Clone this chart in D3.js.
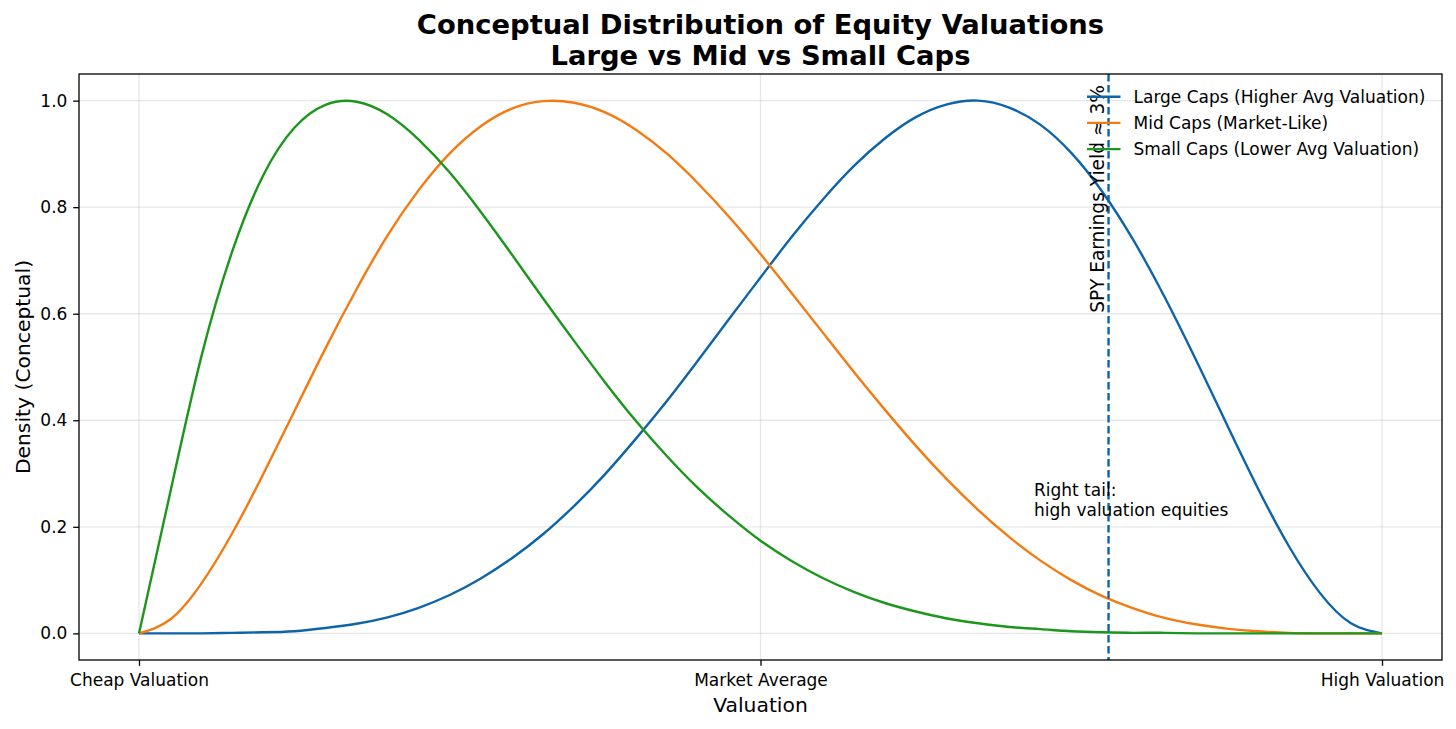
<!DOCTYPE html>
<html lang="en">
<head>
    <meta charset="UTF-8"/>
    <title>Equity Valuations</title>
    <script src="https://d3js.org/d3.v7.min.js"></script>
    <style>
        body { margin: 0; background: #fff; }
        text { font-family: "DejaVu Sans", sans-serif; fill: #000; }
    </style>
</head>
<body>
<div class="chart"></div>

<script>
    // valuation axis sample points (0 = cheap, 1 = high)
    const xs = [0, 0.025, 0.05, 0.075, 0.1, 0.125, 0.15, 0.175, 0.2, 0.225, 0.25, 0.275, 0.3, 0.325, 0.35,
        0.375, 0.4, 0.425, 0.45, 0.475, 0.5, 0.525, 0.55, 0.575, 0.6, 0.625, 0.65, 0.675, 0.7, 0.725, 0.75,
        0.775, 0.8, 0.825, 0.85, 0.875, 0.9, 0.925, 0.95, 0.975, 1];

    // densities
    const largeCaps = [0, 0, 0, 0.001, 0.002, 0.004, 0.010, 0.018, 0.030, 0.048, 0.072, 0.103, 0.141, 0.186,
        0.239, 0.299, 0.366, 0.437, 0.513, 0.591, 0.668, 0.744, 0.814, 0.877, 0.929, 0.969, 0.993, 1.000,
        0.987, 0.955, 0.902, 0.829, 0.738, 0.632, 0.515, 0.393, 0.273, 0.164, 0.076, 0.019, 0];
    const midCaps = [0, 0.026, 0.093, 0.188, 0.299, 0.417, 0.535, 0.646, 0.747, 0.832, 0.901, 0.952, 0.985,
        0.999, 0.996, 0.978, 0.945, 0.900, 0.844, 0.781, 0.712, 0.639, 0.565, 0.491, 0.420, 0.352, 0.289,
        0.232, 0.181, 0.137, 0.100, 0.070, 0.047, 0.029, 0.017, 0.009, 0.004, 0.001, 0, 0, 0];
    const smallCaps = [0, 0.263, 0.518, 0.717, 0.860, 0.949, 0.992, 0.998, 0.974, 0.927, 0.865, 0.791,
        0.711, 0.629, 0.549, 0.471, 0.398, 0.332, 0.272, 0.220, 0.174, 0.136, 0.104, 0.078, 0.057, 0.041,
        0.028, 0.019, 0.012, 0.008, 0.004, 0.002, 0.001, 0.001, 0, 0, 0, 0, 0, 0, 0];

    const seriesNames = ["Large Caps (Higher Avg Valuation)", "Mid Caps (Market-Like)", "Small Caps (Lower Avg Valuation)"];
    const seriesColors = ["#0d64a8", "#f47a12", "#1c961c"];

    const xTickValues = [0, 0.5, 1];
    const xTickLabels = ["Cheap Valuation", "Market Average", "High Valuation"];
    const yTickValues = [0, 0.2, 0.4, 0.6, 0.8, 1.0];

    const spyLine = 0.78;
    const spyLabelY = 0.6;
    const tailNote = {x: 0.72, y: 0.22, lines: ["Right tail:", "high valuation equities"]};

    // set the dimensions and margins of the graph
    const W = 1456, H = 729;
    const margin = {top: 74, right: 14, bottom: 69, left: 79},
        width = W - margin.left - margin.right,
        height = H - margin.top - margin.bottom;

    const svg = d3.select(".chart")
        .append("svg")
        .attr("width", W)
        .attr("height", H);

    const g = svg.append("g")
        .attr("transform", `translate(${margin.left}, ${margin.top})`);

    const pad = 60 / 1243;
    const x = d3.scaleLinear().domain([-pad, 1 + pad]).range([0, width]);
    const y = d3.scaleLinear().domain([-0.05, 1.05]).range([height, 0]);

    // grid
    g.append("g")
        .selectAll("line")
        .data(xTickValues)
        .join("line")
        .attr("x1", d => x(d)).attr("x2", d => x(d))
        .attr("y1", 0).attr("y2", height)
        .attr("stroke", "#b0b0b0").attr("stroke-opacity", 0.3).attr("stroke-width", 1.3);
    g.append("g")
        .selectAll("line")
        .data(yTickValues)
        .join("line")
        .attr("x1", 0).attr("x2", width)
        .attr("y1", d => y(d)).attr("y2", d => y(d))
        .attr("stroke", "#b0b0b0").attr("stroke-opacity", 0.3).attr("stroke-width", 1.3);

    // curves (uniform spacing, so a natural spline over the index is fine)
    const line = d3.line()
        .x((d, i) => x(xs[i]))
        .y(d => y(d))
        .curve(d3.curveNatural);

    [largeCaps, midCaps, smallCaps].forEach((vals, i) => {
        g.append("path")
            .datum(vals)
            .attr("d", line)
            .attr("fill", "none")
            .attr("stroke", seriesColors[i])
            .attr("stroke-width", 2.4)
            .attr("stroke-linejoin", "round");
    });

    // SPY marker
    g.append("line")
        .attr("x1", x(spyLine)).attr("x2", x(spyLine))
        .attr("y1", 0).attr("y2", height)
        .attr("stroke", seriesColors[0])
        .attr("stroke-width", 2.4)
        .attr("stroke-dasharray", "7.5,3.5");

    g.append("text")
        .attr("transform", `translate(${x(spyLine) - 5}, ${y(spyLabelY) - 1}) rotate(-90)`)
        .style("font-size", "18.6px")
        .text("SPY Earnings Yield ≈ 3%");

    g.append("text")
        .attr("x", x(tailNote.x))
        .attr("y", y(tailNote.y))
        .style("font-size", "17px")
        .selectAll("tspan")
        .data(tailNote.lines)
        .join("tspan")
        .attr("x", x(tailNote.x))
        .attr("dy", (d, i) => i === 0 ? "-20" : "20")
        .text(d => d);

    // frame
    g.append("rect")
        .attr("width", width).attr("height", height)
        .attr("fill", "none").attr("stroke", "#000").attr("stroke-width", 1.3);

    // Add X axis
    const xAxis = g.append("g")
        .attr("transform", `translate(0, ${height})`)
        .call(d3.axisBottom(x).tickValues(xTickValues)
            .tickFormat((d, i) => xTickLabels[i]).tickSize(5.8).tickSizeOuter(0).tickPadding(8));
    // Add Y axis
    const yAxis = g.append("g")
        .call(d3.axisLeft(y).tickValues(yTickValues)
            .tickFormat(d3.format(".1f")).tickSize(5.8).tickSizeOuter(0).tickPadding(5.8));

    [xAxis, yAxis].forEach(a => {
        a.select(".domain").remove();
        a.selectAll(".tick line").attr("stroke", "#000").attr("stroke-width", 1.3);
        a.selectAll(".tick text")
            .style("font-family", "'DejaVu Sans', sans-serif")
            .style("font-size", "17px")
            .attr("fill", "#000");
    });

    // axis labels
    svg.append("text")
        .attr("x", margin.left + width / 2)
        .attr("y", 712)
        .style("font-size", "20.3px")
        .style("text-anchor", "middle")
        .text("Valuation");

    svg.append("text")
        .attr("transform", `translate(29.5, ${margin.top + height / 2}) rotate(-90)`)
        .style("font-size", "20.3px")
        .style("text-anchor", "middle")
        .text("Density (Conceptual)");

    // Title
    const title = svg.append("text")
        .style("font-size", "27.4px")
        .style("font-weight", "bold")
        .style("text-anchor", "middle");
    title.append("tspan").attr("x", margin.left + width / 2).attr("y", 34)
        .text("Conceptual Distribution of Equity Valuations");
    title.append("tspan").attr("x", margin.left + width / 2).attr("y", 65)
        .text("Large vs Mid vs Small Caps");

    // legend (no frame)
    const legend = svg.append("g")
        .selectAll("g")
        .data(seriesNames)
        .join("g")
        .attr("transform", (d, i) => `translate(1087, ${96.7 + i * 26.2})`);
    legend.append("line")
        .attr("x1", 0).attr("x2", 33.5)
        .attr("stroke", (d, i) => seriesColors[i])
        .attr("stroke-width", 2.4);
    legend.append("text")
        .attr("x", 46.5)
        .attr("dy", "0.36em")
        .style("font-size", "17px")
        .text(d => d);
</script>
</body>
</html>
